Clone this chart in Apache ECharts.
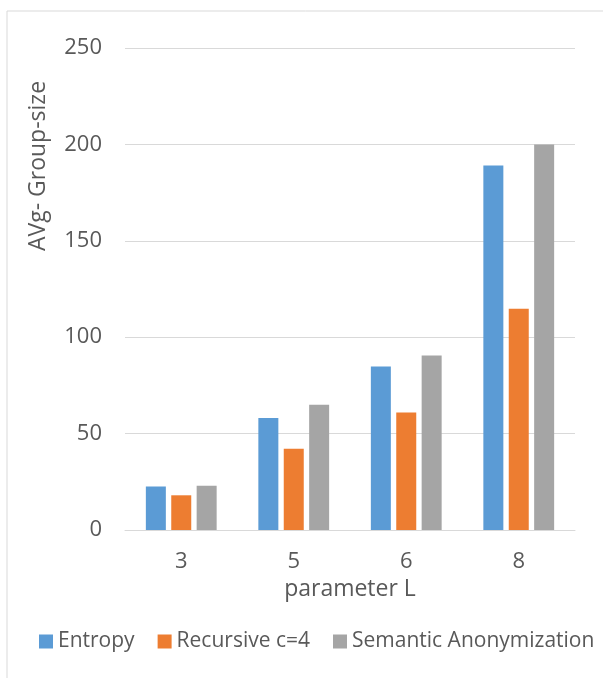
<!DOCTYPE html>
<html>
<head>
<meta charset="utf-8">
<script src="https://cdn.jsdelivr.net/npm/echarts@6/dist/echarts.min.js"></script>
<style>
  html, body { margin: 0; padding: 0; background: #fff; }
  #chart { width: 603px; height: 678px; }
</style>
</head>
<body>
<div id="chart"></div>
<script>
// data
var categories = ['3', '5', '6', '8'];
var entropy = [22.5, 58.1, 84.8, 189];
var recursive = [18, 42.2, 60.9, 114.7];
var semantic = [23, 65, 90.5, 200];
var yTicks = { min: 0, max: 250, interval: 50 };

var textColor = '#595959';
var fontFam = '"Open Sans", "Noto Sans", sans-serif';

var chart = echarts.init(document.getElementById('chart'));
var option = {
  animation: false,
  color: ['#5B9BD5', '#ED7D31', '#A5A5A5'],
  textStyle: { fontFamily: fontFam, color: textColor },
  grid: { left: 125, right: 28, top: 48, bottom: 148 },
  legend: {
    top: 631,
    left: 39,
    width: 562,
    padding: 0,
    itemWidth: 14,
    itemHeight: 14,
    itemGap: 23,
    icon: 'rect',
    textStyle: { fontSize: 21, color: textColor, fontFamily: fontFam }
  },
  graphic: [
    {
      type: 'rect',
      shape: { x: 7, y: 11, width: 700, height: 700 },
      style: { fill: 'none', stroke: '#D9D9D9', lineWidth: 1 },
      silent: true
    },
    {
      type: 'text',
      x: 38, y: 166,
      rotation: Math.PI / 2,
      style: {
        text: 'AVg- Group-size',
        fontSize: 23,
        fontFamily: fontFam,
        fill: textColor,
        align: 'center',
        verticalAlign: 'middle'
      }
    }
  ],
  xAxis: {
    type: 'category',
    data: categories,
    name: 'parameter L',
    nameLocation: 'middle',
    nameGap: 48,
    nameTextStyle: { fontSize: 23, color: textColor },
    axisTick: { show: false },
    axisLine: { lineStyle: { color: '#D9D9D9', width: 1 } },
    axisLabel: { fontSize: 22, color: textColor, margin: 21 }
  },
  yAxis: {
    type: 'value',
    min: yTicks.min,
    max: yTicks.max,
    interval: yTicks.interval,
    axisLine: { show: false },
    axisTick: { show: false },
    axisLabel: { fontSize: 22, color: textColor, margin: 23 },
    splitLine: { lineStyle: { color: '#D9D9D9', width: 1 } }
  },
  series: [
    { name: 'Entropy', type: 'bar', data: entropy, barWidth: 20, barGap: '27%' },
    { name: 'Recursive c=4', type: 'bar', data: recursive, barWidth: 20, barGap: '27%' },
    { name: 'Semantic Anonymization', type: 'bar', data: semantic, barWidth: 20, barGap: '27%' }
  ]
};
chart.setOption(option);
</script>
</body>
</html>
